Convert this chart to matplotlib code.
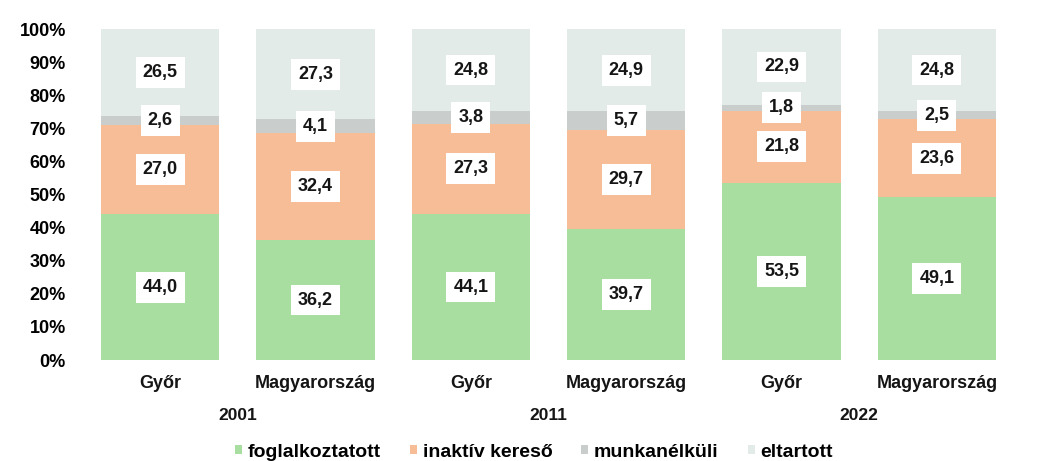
import matplotlib
matplotlib.use('Agg')
import matplotlib.pyplot as plt
import matplotlib.transforms as mtransforms
from matplotlib.patches import Patch
import numpy as np

plt.rcParams['font.family'] = ['Liberation Sans', 'DejaVu Sans']
plt.rcParams['font.weight'] = 'bold'

# data
places = ['Győr', 'Magyarország', 'Győr', 'Magyarország', 'Győr', 'Magyarország']
years = ['2001', '2011', '2022']
series = ['foglalkoztatott', 'inaktív kereső', 'munkanélküli', 'eltartott']
foglalkoztatott = [44.0, 36.2, 44.1, 39.7, 53.5, 49.1]
inaktiv = [27.0, 32.4, 27.3, 29.7, 21.8, 23.6]
munkanelkuli = [2.6, 4.1, 3.8, 5.7, 1.8, 2.5]
eltartott = [26.5, 27.3, 24.8, 24.9, 22.9, 24.8]
colors = ['#a8dfa0', '#f7bd96', '#c9cdcc', '#e3ebe8']

fig = plt.figure(figsize=(10.46, 4.61), dpi=100)
ax = fig.add_axes([82.5 / 1046, 1 - 360 / 461, 932 / 1046, 331 / 461])

x = np.arange(len(places))
bottom = np.zeros(len(places))
for vals, col in zip([foglalkoztatott, inaktiv, munkanelkuli, eltartott], colors):
    vals = np.array(vals)
    ax.bar(x, vals, bottom=bottom, width=0.76, color=col, edgecolor='none')
    for xi, b, v in zip(x, bottom, vals):
        ax.text(xi, b + v / 2, f'{v:.1f}'.replace('.', ','), ha='center', va='center',
                fontsize=13, fontweight='bold', color='#151515',
                bbox=dict(boxstyle='square,pad=0.38', fc='white', ec='none'))
    bottom += vals

ax.set_xlim(-0.5, 5.5)
ax.set_ylim(0, 100)
ax.set_yticks(np.arange(0, 101, 10))
ax.set_yticklabels([f'{t}%' for t in range(0, 101, 10)], fontsize=13, fontweight='bold')
ax.tick_params(axis='y', length=0, pad=12)
ax.set_xticks([])
for s in ax.spines.values():
    s.set_visible(False)

trans = mtransforms.blended_transform_factory(ax.transData, ax.transAxes)
for xi, p in zip(x, places):
    ax.text(xi, -0.0695, p, transform=trans, ha='center', va='center',
            fontsize=13, fontweight='bold', color='#151515')
for i, y in enumerate(years):
    ax.text(2 * i + 0.5, -0.168, y, transform=trans, ha='center', va='center',
            fontsize=12.5, fontweight='bold', color='#151515')

handles = [Patch(facecolor=c, edgecolor='none') for c in colors]
fig.legend(handles, series, loc='center', bbox_to_anchor=(534 / 1046, 1 - 452 / 461),
           ncol=4, frameon=False, prop={'size': 14, 'weight': 'bold'},
           handlelength=0.35, handleheight=0.35, handletextpad=0.3, columnspacing=1.5)

fig.savefig('out.png', dpi=100)
